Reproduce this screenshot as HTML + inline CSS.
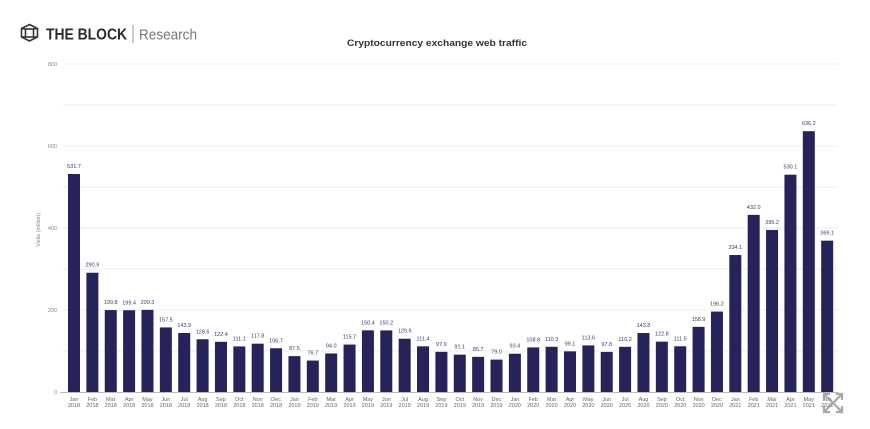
<!DOCTYPE html>
<html><head><meta charset="utf-8"><style>
html,body{margin:0;padding:0;background:#fff;}
svg{display:block;}
</style></head><body>
<svg width="870" height="429" viewBox="0 0 870 429" xmlns="http://www.w3.org/2000/svg" font-family="Liberation Sans, sans-serif">
<rect width="870" height="429" fill="#fff"/>
<!-- logo -->
<g stroke="#333" stroke-width="1.6" fill="none">
<polygon points="29.5,24.5 37.5,28.5 37.5,37 29.5,41 21.5,37 21.5,28.5"/>
<rect x="25.5" y="29" width="8" height="8"/>
<line x1="21.5" y1="28.5" x2="25.5" y2="29"/><line x1="37.5" y1="28.5" x2="33.5" y2="29"/>
<line x1="21.5" y1="37" x2="25.5" y2="37"/><line x1="37.5" y1="37" x2="33.5" y2="37"/>
</g>
<text x="46" y="39.5" font-size="16" font-weight="bold" fill="#2a2a2a" textLength="81" lengthAdjust="spacingAndGlyphs">THE BLOCK</text>
<line x1="133" y1="25" x2="133" y2="43" stroke="#999" stroke-width="1"/>
<text x="139" y="39.5" font-size="15" fill="#777" textLength="58" lengthAdjust="spacingAndGlyphs">Research</text>
<!-- title -->
<text x="437" y="46" font-size="9.5" font-weight="bold" fill="#333" text-anchor="middle" textLength="180" lengthAdjust="spacingAndGlyphs">Cryptocurrency exchange web traffic</text>
<!-- gridlines -->
<g stroke="#ececec" stroke-width="1">
<line x1="63" y1="64" x2="838" y2="64"/>
<line x1="63" y1="105" x2="838" y2="105"/>
<line x1="63" y1="146" x2="838" y2="146"/>
<line x1="63" y1="187" x2="838" y2="187"/>
<line x1="63" y1="228" x2="838" y2="228"/>
<line x1="63" y1="269" x2="838" y2="269"/>
<line x1="63" y1="310" x2="838" y2="310"/>
<line x1="63" y1="351" x2="838" y2="351"/>
</g>
<line x1="60" y1="392.5" x2="838" y2="392.5" stroke="#bbb" stroke-width="1"/>
<g font-size="5.5" fill="#888" text-anchor="end">
<text x="57" y="66">800</text>
<text x="57" y="148">600</text>
<text x="57" y="230">400</text>
<text x="57" y="312">200</text>
<text x="57" y="394">0</text>
</g>
<text transform="translate(40,230) rotate(-90)" font-size="5.5" fill="#888" text-anchor="middle">Visits (million)</text>
<g id="bars"></g>
<!-- expand icon -->
<g stroke="#999" stroke-width="2.2" fill="none" opacity="0.85">
<line x1="825" y1="395" x2="841" y2="411"/><line x1="841" y1="395" x2="825" y2="411"/>
<polyline points="824,400 824,394 830,394"/><polyline points="836,394 842,394 842,400"/>
<polyline points="824,406 824,412 830,412"/><polyline points="836,412 842,412 842,406"/>
</g>
</svg>
<script>
(function(){
var vals=[531.7,290.9,199.8,199.4,200.3,157.5,143.9,128.6,122.4,111.1,117.8,106.7,87.5,76.7,94.0,115.7,150.4,150.2,129.9,111.4,97.9,91.1,85.7,79.0,93.4,108.8,110.3,99.1,113.6,97.8,110.2,143.8,122.8,111.5,158.9,196.2,334.1,432.0,395.2,530.1,636.2,369.1];
var m=["Jan","Feb","Mar","Apr","May","Jun","Jul","Aug","Sep","Oct","Nov","Dec"];
var g=document.getElementById("bars"),h="";
for(var i=0;i<vals.length;i++){
 var cx=74+i*18.37,ty=392-vals[i]*0.41;
 h+='<rect x="'+(cx-6).toFixed(2)+'" y="'+ty.toFixed(2)+'" width="12" height="'+(392-ty).toFixed(2)+'" fill="#25235a"/>';
 h+='<text x="'+cx.toFixed(2)+'" y="'+(ty-6).toFixed(2)+'" font-size="5.5" fill="#3a3a70" text-anchor="middle">'+vals[i].toFixed(1)+'</text>';
 var yr=2018+Math.floor(i/12);
 h+='<text x="'+cx.toFixed(2)+'" y="401" font-size="5.5" fill="#666" text-anchor="middle">'+m[i%12]+'</text>';
 h+='<text x="'+cx.toFixed(2)+'" y="407" font-size="5.5" fill="#666" text-anchor="middle">'+yr+'</text>';
}
g.innerHTML=h;
})();
</script>
</body></html>
